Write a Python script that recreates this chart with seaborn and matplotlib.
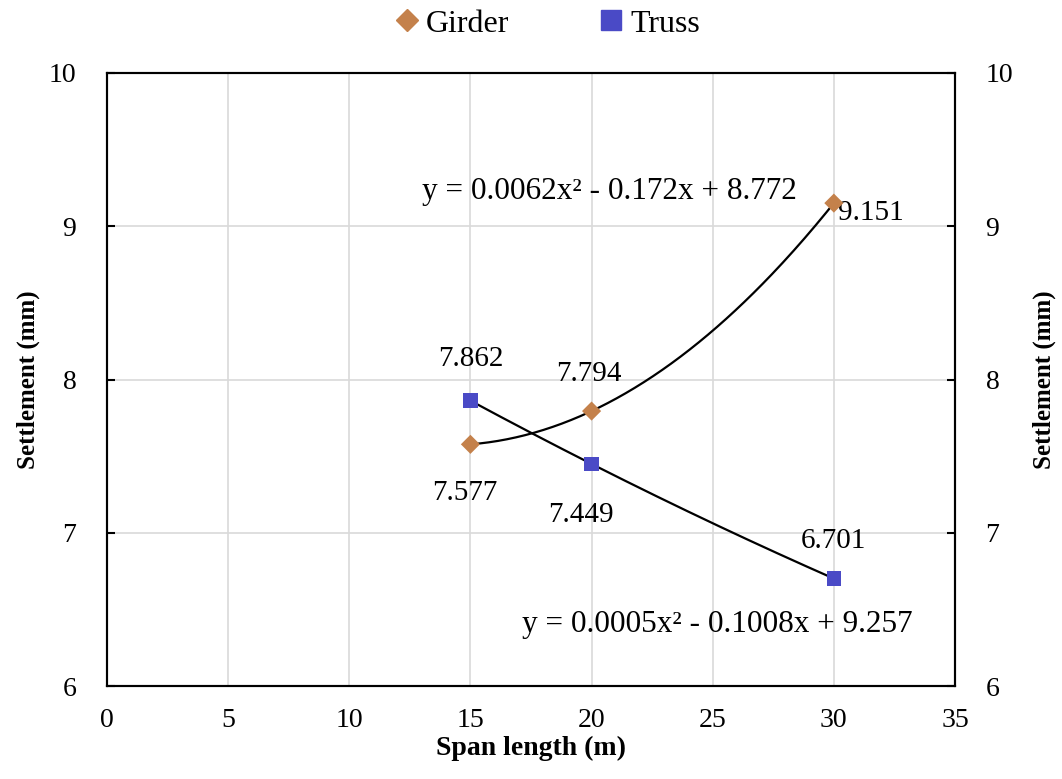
"""Settlement vs span length for girder and truss bridges, with quadratic trendlines."""

import matplotlib

matplotlib.use("Agg")
import matplotlib.pyplot as plt
import numpy as np
import pandas as pd
import seaborn as sns
from matplotlib.lines import Line2D

# data
span = [15, 20, 30]
girder = [7.577, 7.794, 9.151]
truss = [7.862, 7.449, 6.701]
girder_eq = "y = 0.0062x² - 0.172x + 8.772"
truss_eq = "y = 0.0005x² - 0.1008x + 9.257"

GIRDER_COLOR = "#C4814B"
TRUSS_COLOR = "#4A4AC6"

sns.set_theme(style="white")
plt.rcParams["font.family"] = ["Liberation Serif", "DejaVu Serif"]
plt.rcParams["text.color"] = "black"
plt.rcParams["axes.labelcolor"] = "black"
plt.rcParams["xtick.color"] = "black"
plt.rcParams["ytick.color"] = "black"

df = pd.DataFrame(
    {
        "span": span * 2,
        "settlement": girder + truss,
        "type": ["Girder"] * 3 + ["Truss"] * 3,
    }
)

fig, ax = plt.subplots(figsize=(10.62, 7.79), dpi=100)
fig.subplots_adjust(left=107 / 1062, right=955 / 1062, top=1 - 73 / 779, bottom=1 - 686 / 779)

# quadratic trendlines fitted to the points
xs = np.linspace(min(span), max(span), 200)
for vals in (girder, truss):
    coef = np.polyfit(span, vals, 2)
    sns.lineplot(x=xs, y=np.polyval(coef, xs), ax=ax, color="black", lw=1.6, zorder=3)

sns.scatterplot(
    data=df[df["type"] == "Girder"], x="span", y="settlement", ax=ax,
    marker="D", s=95, color=GIRDER_COLOR, edgecolor="none", zorder=4,
)
sns.scatterplot(
    data=df[df["type"] == "Truss"], x="span", y="settlement", ax=ax,
    marker="s", s=110, color=TRUSS_COLOR, edgecolor="none", zorder=4,
)

# value labels
girder_off = [(-4, -35), (-2, 27), (27, -7)]
truss_off = [(0, 30), (-8, -37), (0, 27)]
for x, y, off in zip(span, girder, girder_off):
    ax.annotate(f"{y:.3f}", (x, y), xytext=off, textcoords="offset points",
                ha="center", va="center", fontsize=21)
for x, y, off in zip(span, truss, truss_off):
    ax.annotate(f"{y:.3f}", (x, y), xytext=off, textcoords="offset points",
                ha="center", va="center", fontsize=21)

ax.text(20.75, 9.23, girder_eq, ha="center", va="center", fontsize=22.5)
ax.text(25.2, 6.40, truss_eq, ha="center", va="center", fontsize=22.5)

ax.set_xlim(0, 35)
ax.set_ylim(6, 10)
ax.set_xticks(range(0, 36, 5))
ax.set_yticks(range(6, 11))
ax.grid(True, color="#D9D9D9", lw=1.2)
ax.set_axisbelow(True)
ax.set_xlabel("Span length (m)", fontsize=20, fontweight="bold", labelpad=2)
ax.set_ylabel("Settlement (mm)", fontsize=18, fontweight="bold", labelpad=6)
ax.tick_params(axis="both", labelsize=20, direction="in", length=6, width=1.5)
ax.tick_params(axis="x", length=0, pad=16)
ax.tick_params(axis="y", pad=22)
for sp in ax.spines.values():
    sp.set_color("black")
    sp.set_linewidth(1.5)

ax2 = ax.twinx()
ax2.set_ylim(6, 10)
ax2.set_yticks(range(6, 11))
ax2.set_ylabel("Settlement (mm)", fontsize=18, fontweight="bold", labelpad=14)
ax2.tick_params(axis="y", labelsize=20, direction="in", length=6, width=1.5, pad=22)
for sp in ax2.spines.values():
    sp.set_color("black")
    sp.set_linewidth(1.5)

handles = [
    Line2D([], [], marker="D", ls="none", color=GIRDER_COLOR, markersize=11),
    Line2D([], [], marker="s", ls="none", color=TRUSS_COLOR, markersize=14),
]
fig.legend(handles, ["Girder", "Truss"], loc="upper center", bbox_to_anchor=(0.506, 1.025),
           ncol=2, frameon=False, fontsize=23, handletextpad=-0.4, columnspacing=2.2)

fig.savefig("out.png", dpi=100)
plt.close(fig)
